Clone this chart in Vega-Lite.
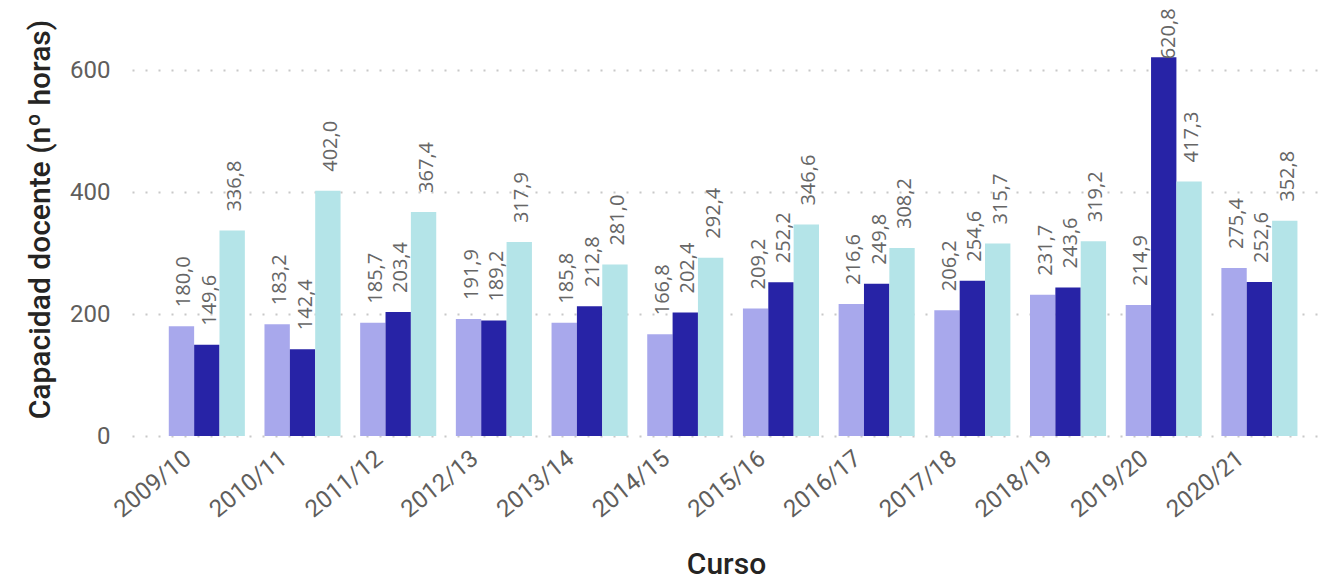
{
  "$schema": "https://vega.github.io/schema/vega-lite/v6.json",
  "width": 1188,
  "height": 416,
  "autosize": "none",
  "padding": {"left": 132, "top": 20, "right": 4, "bottom": 146},
  "config": {
    "view": {"stroke": null},
    "font": "Roboto",
    "locale": {"number": {"decimal": ",", "thousands": ".", "grouping": [3], "currency": ["", " €"]}}
  },
  "data": {"values": [
    {"curso": "2009/10", "serie": "A", "valor": 180.0},
    {"curso": "2009/10", "serie": "B", "valor": 149.6},
    {"curso": "2009/10", "serie": "C", "valor": 336.8},
    {"curso": "2010/11", "serie": "A", "valor": 183.2},
    {"curso": "2010/11", "serie": "B", "valor": 142.4},
    {"curso": "2010/11", "serie": "C", "valor": 402.0},
    {"curso": "2011/12", "serie": "A", "valor": 185.7},
    {"curso": "2011/12", "serie": "B", "valor": 203.4},
    {"curso": "2011/12", "serie": "C", "valor": 367.4},
    {"curso": "2012/13", "serie": "A", "valor": 191.9},
    {"curso": "2012/13", "serie": "B", "valor": 189.2},
    {"curso": "2012/13", "serie": "C", "valor": 317.9},
    {"curso": "2013/14", "serie": "A", "valor": 185.8},
    {"curso": "2013/14", "serie": "B", "valor": 212.8},
    {"curso": "2013/14", "serie": "C", "valor": 281.0},
    {"curso": "2014/15", "serie": "A", "valor": 166.8},
    {"curso": "2014/15", "serie": "B", "valor": 202.4},
    {"curso": "2014/15", "serie": "C", "valor": 292.4},
    {"curso": "2015/16", "serie": "A", "valor": 209.2},
    {"curso": "2015/16", "serie": "B", "valor": 252.2},
    {"curso": "2015/16", "serie": "C", "valor": 346.6},
    {"curso": "2016/17", "serie": "A", "valor": 216.6},
    {"curso": "2016/17", "serie": "B", "valor": 249.8},
    {"curso": "2016/17", "serie": "C", "valor": 308.2},
    {"curso": "2017/18", "serie": "A", "valor": 206.2},
    {"curso": "2017/18", "serie": "B", "valor": 254.6},
    {"curso": "2017/18", "serie": "C", "valor": 315.7},
    {"curso": "2018/19", "serie": "A", "valor": 231.7},
    {"curso": "2018/19", "serie": "B", "valor": 243.6},
    {"curso": "2018/19", "serie": "C", "valor": 319.2},
    {"curso": "2019/20", "serie": "A", "valor": 214.9},
    {"curso": "2019/20", "serie": "B", "valor": 620.8},
    {"curso": "2019/20", "serie": "C", "valor": 417.3},
    {"curso": "2020/21", "serie": "A", "valor": 275.4},
    {"curso": "2020/21", "serie": "B", "valor": 252.6},
    {"curso": "2020/21", "serie": "C", "valor": 352.8}
  ]},
  "encoding": {
    "x": {
      "field": "curso", "type": "nominal", "sort": null,
      "scale": {"paddingInner": 0.205, "paddingOuter": 0.31, "align": 0.62},
      "axis": {
        "labelAngle": -39, "labelFontSize": 24, "labelColor": "#605E5C",
        "ticks": false, "domain": false, "labelPadding": 10, "labelOffset": -26,
        "title": "Curso", "titleFontSize": 30, "titleFontWeight": 500,
        "titleColor": "#252423", "titlePadding": 28
      }
    },
    "xOffset": {"field": "serie", "type": "nominal", "sort": null},
    "y": {
      "field": "valor", "type": "quantitative",
      "scale": {"domain": [0, 682], "nice": false},
      "axis": {
        "values": [0, 200, 400, 600], "format": "d",
        "grid": true, "gridDash": [2, 11], "gridColor": "#C8C8C8", "gridWidth": 2,
        "domain": false, "ticks": false,
        "labelFontSize": 24, "labelColor": "#605E5C", "labelPadding": 22,
        "title": "Capacidad docente (nº horas)", "titleFontSize": 30,
        "titleFontWeight": 500, "titleColor": "#252423", "titlePadding": 14,
        "titleY": 199
      }
    }
  },
  "layer": [
    {
      "mark": {"type": "bar"},
      "encoding": {
        "color": {
          "field": "serie", "type": "nominal", "sort": null,
          "scale": {"range": ["#A8A8EC", "#2723A6", "#B4E4E8"]},
          "legend": null
        }
      }
    },
    {
      "transform": [{"filter": "datum.valor < 600"}],
      "mark": {"type": "text", "angle": 270, "align": "left", "baseline": "middle", "dx": 19, "dy": 3, "font": "Open Sans", "fontSize": 20, "color": "#666666"},
      "encoding": {"text": {"field": "valor", "type": "quantitative", "format": ".1f"}}
    },
    {
      "transform": [{"filter": "datum.valor >= 600"}],
      "mark": {"type": "text", "angle": 270, "align": "left", "baseline": "middle", "dx": -2, "dy": 5, "font": "Open Sans", "fontSize": 20, "color": "#666666"},
      "encoding": {"text": {"field": "valor", "type": "quantitative", "format": ".1f"}}
    }
  ]
}
